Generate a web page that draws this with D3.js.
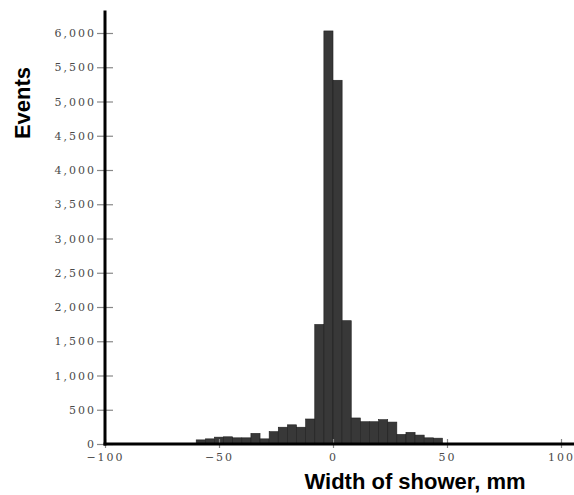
<!DOCTYPE html>
<html>
<head>
<meta charset="utf-8">
<script src="https://cdn.jsdelivr.net/npm/d3@7"></script>
<style>
  body { margin: 0; background: #fff; }
  svg { display: block; }
</style>
</head>
<body>
<svg width="574" height="495"></svg>
<script>
// bin left edges (mm), bin width 4
const binStarts = [-60, -56, -52, -48, -44, -40, -36, -32, -28, -24, -20, -16, -12, -8,
                   -4, 0, 4, 8, 12, 16, 20, 24, 28, 32, 36, 40, 44];
const binCounts = [60, 75, 100, 105, 90, 90, 155, 75, 180, 245, 280, 245, 365, 1745,
                   6030, 5310, 1800, 380, 325, 325, 355, 320, 140, 170, 130, 90, 85];
const binWidth = 4;
const xTicks = [-100, -50, 0, 50, 100];
const yTicks = [0, 500, 1000, 1500, 2000, 2500, 3000, 3500, 4000, 4500, 5000, 5500, 6000];

const svg = d3.select("svg");
const width = +svg.attr("width");

const x = d3.scaleLinear().domain([-100, 100]).range([105, 561]);
const y = d3.scaleLinear().domain([0, 6000]).range([444, 33]);

const data = binStarts.map((s, i) => ({ x0: s, x1: s + binWidth, count: binCounts[i] }));

// --- bars ---
svg.selectAll("rect.bar")
  .data(data)
  .enter()
  .append("rect")
  .attr("class", "bar")
  .attr("x", d => x(d.x0))
  .attr("width", d => x(d.x1) - x(d.x0))
  .attr("y", d => y(d.count))
  .attr("height", d => y(0) - y(d.count))
  .attr("fill", "#383838")
  .attr("stroke", "#1e1e1e")
  .attr("stroke-width", 0.6);

const tickFont = "'DejaVu Serif', serif";

// --- y axis ---
const yAxis = svg.append("g")
  .attr("transform", `translate(${x(-100)},0)`)
  .call(d3.axisLeft(y).tickValues(yTicks).tickSize(8).tickFormat(d3.format(",")));
yAxis.select(".domain").remove();
yAxis.selectAll(".tick line").attr("x2", 8).attr("x1", -8).attr("stroke", "#888").attr("stroke-width", 1.2);
yAxis.selectAll(".tick text")
  .attr("x", -9)
  .style("font-family", tickFont)
  .style("font-size", "11px")
  .style("letter-spacing", "2px")
  .attr("fill", "#4a4a4a");

// --- x axis ---
const xAxis = svg.append("g")
  .attr("transform", `translate(0,${y(0)})`)
  .call(d3.axisBottom(x).tickValues(xTicks).tickSize(4).tickFormat(d3.format("d")));
xAxis.select(".domain").remove();
xAxis.selectAll(".tick line").attr("y1", -5).attr("y2", 4).attr("stroke", "#888").attr("stroke-width", 1.2);
xAxis.selectAll(".tick text")
  .attr("y", 9)
  .style("font-family", tickFont)
  .style("font-size", "11px")
  .style("letter-spacing", "2px")
  .attr("fill", "#4a4a4a");

// --- axis lines (thick) ---
svg.append("line")
  .attr("x1", x(-100)).attr("x2", x(-100))
  .attr("y1", y(0) + 1.5).attr("y2", y(6330))
  .attr("stroke", "#000").attr("stroke-width", 3);
svg.append("line")
  .attr("x1", x(-100) - 1.5).attr("x2", width)
  .attr("y1", y(0)).attr("y2", y(0))
  .attr("stroke", "#000").attr("stroke-width", 3);

// --- axis titles ---
svg.append("text")
  .attr("transform", `translate(30,103) rotate(-90)`)
  .attr("text-anchor", "middle")
  .style("font-family", "'Liberation Sans', Arial, sans-serif")
  .style("font-size", "22px")
  .style("font-weight", "bold")
  .text("Events");

svg.append("text")
  .attr("x", 415)
  .attr("y", 489)
  .attr("text-anchor", "middle")
  .style("font-family", "'Liberation Sans', Arial, sans-serif")
  .style("font-size", "22px")
  .style("font-weight", "bold")
  .text("Width of shower, mm");
</script>
</body>
</html>
